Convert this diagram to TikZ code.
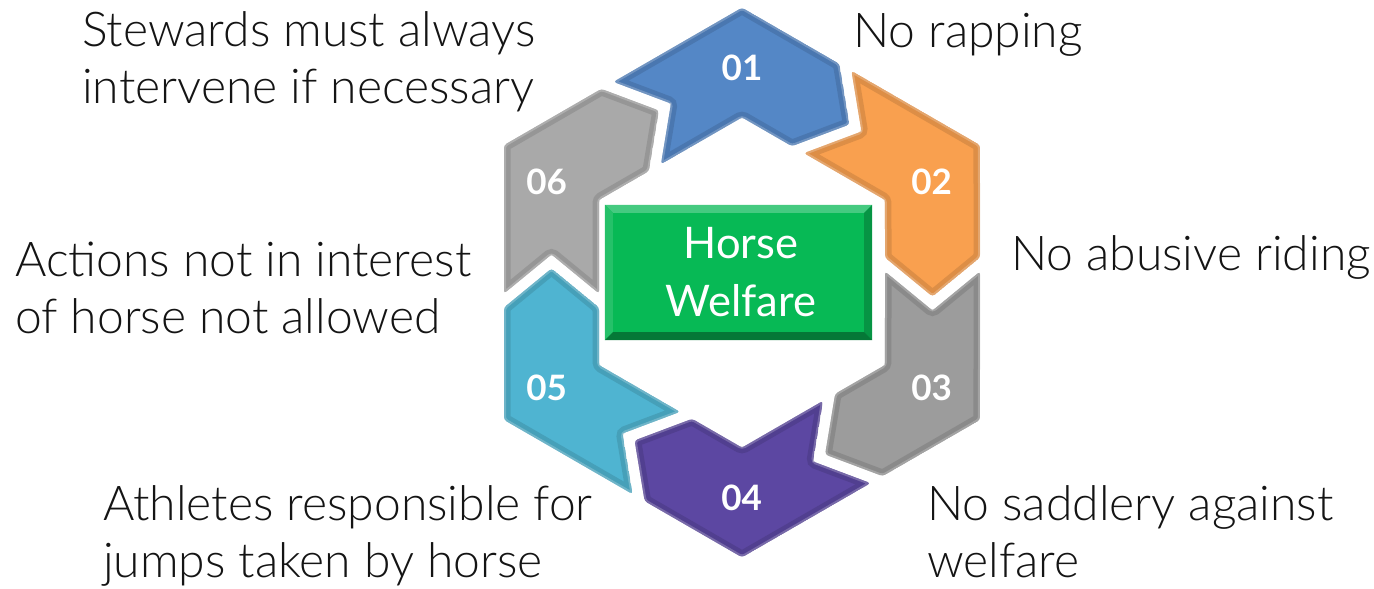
\documentclass[tikz,border=0pt]{standalone}
\usepackage{fontspec}
\newfontfamily\lightfont{Lato Light}
\newfontfamily\latofont{Lato}
\usetikzlibrary{calc}
\definecolor{pone}{HTML}{5487C6}
\definecolor{ptwo}{HTML}{F9A04F}
\definecolor{pthree}{HTML}{9C9C9C}
\definecolor{pfour}{HTML}{5C47A2}
\definecolor{pfive}{HTML}{4FB4D1}
\definecolor{psix}{HTML}{A9A9A9}
\definecolor{hwgreen}{HTML}{07B955}
\tikzset{
  lbl/.style={anchor=base west, align=left, inner sep=0pt, text=black!92,
    font=\lightfont\fontsize{48}{56.5}\selectfont},
  num/.style={text=white, inner sep=0pt, font=\latofont\bfseries\fontsize{35}{35}\selectfont},
}
% piece outline around the hexagon vertex at angle #1
\def\piecepath#1{($(C)+(#1-30:238)+(#1+60:-11)$) -- ($(C)+(#1:274.8)$) -- ($(C)+(#1+30:238)+(#1+120:-25)$) -- ($(C)+(#1+30:190.5)+(#1+120:14)$) -- ($(C)+(#1+30:143)+(#1+120:-25)$) -- ($(C)+(#1:165.1)$) -- ($(C)+(#1-30:143)+(#1+60:-11)$) -- ($(C)+(#1-30:190.5)+(#1+60:28)$) -- cycle}
\newcommand\drawpiece[2]{%
  \begin{scope}
    \clip[rounded corners=3pt] \piecepath{#1};
    \fill[#2] \piecepath{#1};
    \draw[line width=13pt, #2!72!black, opacity=.4, rounded corners=3pt] \piecepath{#1};
    \draw[line width=4pt, white, opacity=.22, rounded corners=3pt] \piecepath{#1};
  \end{scope}}
\begin{document}
\begin{tikzpicture}[x=1pt, y=-1pt]
\useasboundingbox (0,0) rectangle (1374,589);
\coordinate (C) at (742,282.5);
\drawpiece{-90}{pone}
\drawpiece{-30}{ptwo}
\drawpiece{30}{pthree}
\drawpiece{90}{pfour}
\drawpiece{150}{pfive}
\drawpiece{210}{psix}
% centre box
\node[fill=hwgreen, minimum width=267pt, minimum height=135pt, inner sep=0pt] (hw) at (738.5,272.5) {};
\fill[hwgreen!75!white] (hw.north west) -- (hw.north east) -- ($(hw.north east)+(-8,8)$) -- ($(hw.north west)+(8,8)$) -- cycle;
\fill[hwgreen!88!white] (hw.north west) -- ($(hw.north west)+(8,8)$) -- ($(hw.south west)+(8,-8)$) -- (hw.south west) -- cycle;
\fill[hwgreen!80!black] (hw.north east) -- ($(hw.north east)+(-8,8)$) -- ($(hw.south east)+(-8,-8)$) -- (hw.south east) -- cycle;
\fill[hwgreen!65!black] (hw.south west) -- ($(hw.south west)+(8,-8)$) -- ($(hw.south east)+(-8,-8)$) -- (hw.south east) -- cycle;
\node[text=white, align=center, inner sep=0pt, font=\latofont\fontsize{43.5}{58.4}\selectfont, anchor=base] (hwt) at (741,316.7) {Horse\\Welfare};
% numbers
\node[num] (n1) at (742,68.3) {01};
\node[num] (n2) at (931.7,181.7) {02};
\node[num] (n3) at (931.7,388.3) {03};
\node[num] (n4) at (741.7,498.3) {04};
\node[num] (n5) at (546.7,388.3) {05};
\node[num] (n6) at (546.7,181.7) {06};
% labels (anchored at the baseline of their last line)
\node[lbl] (l6) at (82,103.3) {Stewards must always\\intervene if necessary};
\node[lbl] (l1) at (853,47) {No rapping};
\node[lbl] (l5) at (15,333) {Actions not in interest\\of horse not allowed};
\node[lbl] (l2) at (1011,270) {No abusive riding};
\node[lbl] (l4) at (103,577) {Athletes responsible for\\jumps taken by horse};
\node[lbl] (l3) at (927,577) {No saddlery against\\welfare};
\end{tikzpicture}
\end{document}
